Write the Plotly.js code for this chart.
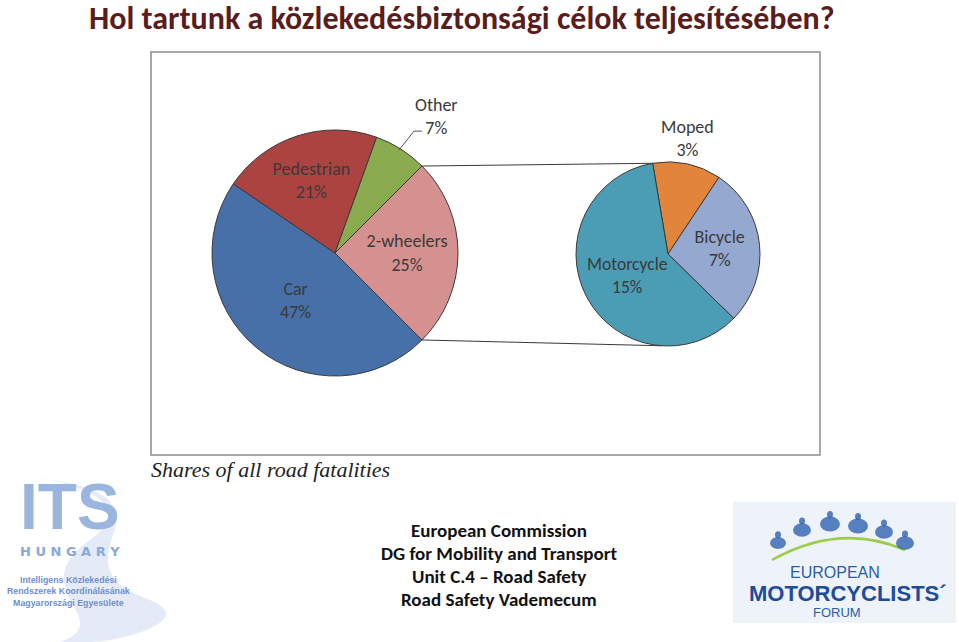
<!DOCTYPE html>
<html>
<head>
<meta charset="utf-8">
<script src="https://cdn.plot.ly/plotly-3.0.1.min.js"></script>
<style>html,body{margin:0;padding:0;background:#fff;}#chart{width:959px;height:642px;}</style>
</head>
<body>
<div id="chart"></div>
<script>
// ---- data ----
const mainLabels = ["2-wheelers", "Car", "Pedestrian", "Other"];
const mainValues = [25, 47, 21, 7];
const subLabels = ["Moped", "Bicycle", "Motorcycle"];
const subValues = [3, 7, 15];
const titleText = "Hol tartunk a közlekedésbiztonsági célok teljesítésében?";
const captionText = "Shares of all road fatalities";
const sourceLines = ["European Commission", "DG for Mobility and Transport", "Unit C.4 – Road Safety", "Road Safety Vademecum"];

// ---- styling ----
const W = 959, H = 642;
const px = x => x / W;
const py = y => 1 - y / H;
const labFont = 'Carlito, Lato, sans-serif';
const mainColors = ["#d49190", "#4770a8", "#ab4340", "#8aac4e"];
const subColors = ["#e2853a", "#94a8d0", "#4a9db5"];
const labColor = "#3a3a3a";

// pie geometry (pixels)
const c1 = {x: 335, y: 253, r: 123};
const c2 = {x: 668, y: 254, r: 92};
const mainRotation = 45;  // split slice centred on the right
const subRotation = -9.6;

const dom = c => ({x: [px(c.x - c.r), px(c.x + c.r)], y: [py(c.y + c.r), py(c.y - c.r)]});
const sum = a => a.reduce((s, v) => s + v, 0);

const mainTrace = {
  type: "pie", labels: mainLabels, values: mainValues, sort: false,
  direction: "clockwise", rotation: mainRotation, domain: dom(c1),
  marker: {colors: mainColors, line: {color: "#3a3a3a", width: 1}},
  texttemplate: ["%{label}<br>%{value}%", "%{label}<br>%{value}%", "%{label}<br>%{value}%", ""],
  textposition: ["inside", "inside", "inside", "none"],
  insidetextorientation: "horizontal",
  textfont: {family: labFont, size: 18, color: labColor},
  hoverinfo: "none", showlegend: false
};
const subTrace = {
  type: "pie", labels: subLabels, values: subValues, sort: false,
  direction: "clockwise", rotation: subRotation, domain: dom(c2),
  marker: {colors: subColors, line: {color: "#3a3a3a", width: 1}},
  texttemplate: ["", "%{label}<br>%{value}%", "%{label}<br>%{value}%"],
  textposition: ["none", "inside", "inside"],
  insidetextorientation: "horizontal",
  textfont: {family: labFont, size: 18, color: labColor},
  hoverinfo: "none", showlegend: false
};

// geometry helpers derived from the data
const onPie = (c, deg, k = 1) => ({x: c.x + k * c.r * Math.sin(deg * Math.PI / 180), y: c.y - k * c.r * Math.cos(deg * Math.PI / 180)});
const sliceMid = (vals, rot, i) => rot + (sum(vals.slice(0, i)) + vals[i] / 2) / sum(vals) * 360;
const splitEnd = mainRotation + mainValues[0] / sum(mainValues) * 360;
const pTop1 = onPie(c1, mainRotation), pBot1 = onPie(c1, splitEnd);
const pTop2 = onPie(c2, subRotation), pBot2 = onPie(c2, 184);

// outside labels placed at the slices' mid-angles
const otherIdx = 3, mopedIdx = 0;
const otherAnchor = onPie(c1, sliceMid(mainValues, mainRotation, otherIdx));
const mopedAnchor = onPie(c2, sliceMid(subValues, subRotation, mopedIdx));

const shapes = [
  {type: "rect", xref: "paper", yref: "paper", x0: px(151), x1: px(820), y0: py(455), y1: py(52),
   line: {color: "#8c8c8c", width: 1.5}, fillcolor: "rgba(0,0,0,0)", layer: "below"},
  {type: "line", xref: "paper", yref: "paper", x0: px(pTop1.x), y0: py(pTop1.y), x1: px(pTop2.x), y1: py(pTop2.y), line: {color: "#3a3a3a", width: 1}},
  {type: "line", xref: "paper", yref: "paper", x0: px(pBot1.x), y0: py(pBot1.y), x1: px(pBot2.x), y1: py(pBot2.y), line: {color: "#3a3a3a", width: 1}},
  // leader line for "Other"
  {type: "path", xref: "paper", yref: "paper",
   path: `M ${px(otherAnchor.x - 2)} ${py(otherAnchor.y + 1)} L ${px(otherAnchor.x + 13)} ${py(otherAnchor.y - 18)} L ${px(otherAnchor.x + 21)} ${py(otherAnchor.y - 18)}`,
   line: {color: "#555", width: 1}},
  // ITS logo swoosh
  {type: "path", xref: "paper", yref: "paper",
   path: `M ${px(40)} ${py(478)} C ${px(200)} ${py(500)}, ${px(40)} ${py(560)}, ${px(150)} ${py(600)} C ${px(200)} ${py(620)}, ${px(120)} ${py(642)}, ${px(90)} ${py(642)} L ${px(60)} ${py(642)} C ${px(120)} ${py(620)}, ${px(20)} ${py(590)}, ${px(90)} ${py(540)} C ${px(140)} ${py(505)}, ${px(80)} ${py(485)}, ${px(40)} ${py(478)} Z`,
   fillcolor: "rgba(205,218,238,0.55)", line: {width: 0}, layer: "below"},
  // EMF logo box
  {type: "rect", xref: "paper", yref: "paper", x0: px(733), x1: px(956), y0: py(623), y1: py(502),
   fillcolor: "#eef3fa", line: {width: 0}, layer: "below"},
  {type: "path", xref: "paper", yref: "paper",
   path: `M ${px(772)} ${py(560)} Q ${px(840)} ${py(522)}, ${px(905)} ${py(550)}`,
   line: {color: "#9ccc4a", width: 2.5}}
];
// motorcyclist icons (decorative)
[[778, 543, 8], [802, 530, 9], [830, 524, 10], [858, 526, 10], [884, 532, 9], [905, 543, 9]].forEach(([x, y, s]) => {
  shapes.push({type: "circle", xref: "paper", yref: "paper", x0: px(x - s), x1: px(x + s), y0: py(y + s * 0.75), y1: py(y - s * 0.75),
    fillcolor: "#2f62b0", line: {width: 0}, opacity: 0.8});
  shapes.push({type: "circle", xref: "paper", yref: "paper", x0: px(x - 3), x1: px(x + 3), y0: py(y - s * 0.6), y1: py(y - s * 0.6 - 7),
    fillcolor: "#2f62b0", line: {width: 0}, opacity: 0.8});
});

const annotations = [
  {text: "<b>" + titleText + "</b>", xref: "paper", yref: "paper", x: px(462), y: py(18), xanchor: "center", yanchor: "middle",
   showarrow: false, font: {family: labFont, size: 32, color: "#5b1c1c"}},
  {text: "<i>" + captionText + "</i>", xref: "paper", yref: "paper", x: px(149), y: py(469), xanchor: "left", yanchor: "middle",
   showarrow: false, font: {family: '"Liberation Serif", "DejaVu Serif", serif', size: 22, color: "#222"}},
  {text: mainLabels[otherIdx] + "<br>" + mainValues[otherIdx] + "%", xref: "paper", yref: "paper",
   x: px(otherAnchor.x), y: py(otherAnchor.y), ax: 36, ay: -33,
   showarrow: true, arrowhead: 0, arrowwidth: 0.1, arrowcolor: "rgba(0,0,0,0)",
   font: {family: labFont, size: 18, color: labColor}},
  {text: subLabels[mopedIdx] + "<br>" + subValues[mopedIdx] + "%", xref: "paper", yref: "paper",
   x: px(mopedAnchor.x), y: py(mopedAnchor.y), ax: 0, ay: -26,
   showarrow: true, arrowhead: 0, arrowwidth: 0.1, arrowcolor: "rgba(0,0,0,0)",
   font: {family: labFont, size: 18, color: labColor}},
  // ITS logo text
  {text: "<b>ITS</b>", xref: "paper", yref: "paper", x: px(70), y: py(507), xanchor: "center", yanchor: "middle",
   showarrow: false, font: {family: '"Liberation Sans", Arial, sans-serif', size: 64, color: "#9bb6de"}},
  {text: "<b>H U N G A R Y</b>", xref: "paper", yref: "paper", x: px(70), y: py(551), xanchor: "center", yanchor: "middle",
   showarrow: false, font: {family: "DejaVu Sans", size: 13, color: "#8aa8d8"}},
  {text: "<b>Intelligens Közlekedési<br>Rendszerek Koordinálásának<br>Magyarországi Egyesülete</b>", xref: "paper", yref: "paper", x: px(68), y: py(591), xanchor: "center", yanchor: "middle",
   showarrow: false, align: "center", font: {family: '"Liberation Sans", Arial, sans-serif', size: 8.8, color: "#6f8fcf"}},
  // EMF logo text
  {text: "EUROPEAN", xref: "paper", yref: "paper", x: px(835), y: py(572), xanchor: "center", yanchor: "middle",
   showarrow: false, font: {family: '"Liberation Sans", Arial, sans-serif', size: 16, color: "#2b5ea8"}},
  {text: "<b>MOTORCYCLISTS´</b>", xref: "paper", yref: "paper", x: px(848), y: py(593), xanchor: "center", yanchor: "middle",
   showarrow: false, font: {family: '"Liberation Sans", Arial, sans-serif', size: 22, color: "#1d4c9c"}},
  {text: "FORUM", xref: "paper", yref: "paper", x: px(837), y: py(612), xanchor: "center", yanchor: "middle",
   showarrow: false, font: {family: '"Liberation Sans", Arial, sans-serif', size: 13, color: "#2b5ea8"}}
];
const srcY = [530, 553, 576, 599];
sourceLines.forEach((t, i) => annotations.push({
  text: "<b>" + t + "</b>", xref: "paper", yref: "paper", x: px(499), y: py(srcY[i]), xanchor: "center", yanchor: "middle",
  showarrow: false, font: {family: labFont, size: 19, color: "#111"}}));

const layout = {
  width: W, height: H, margin: {l: 0, r: 0, t: 0, b: 0},
  paper_bgcolor: "#fff", plot_bgcolor: "#fff",
  shapes: shapes, annotations: annotations, showlegend: false
};

Plotly.newPlot("chart", [mainTrace, subTrace], layout, {staticPlot: true, displayModeBar: false});
</script>
</body>
</html>
